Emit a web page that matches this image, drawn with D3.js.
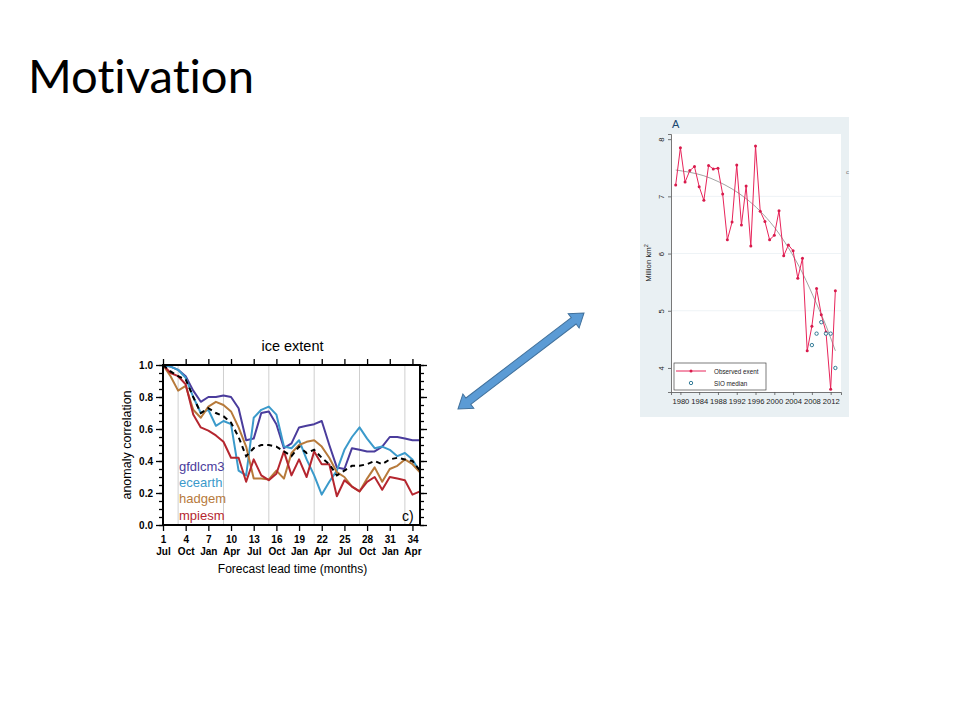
<!DOCTYPE html>
<html>
<head>
<meta charset="utf-8">
<script src="https://cdn.jsdelivr.net/npm/d3@7"></script>
<style>
  html, body { margin: 0; padding: 0; background: #fff; }
  svg text { font-family: "Liberation Sans", Arial, sans-serif; }
</style>
</head>
<body>
<svg id="slide" width="960" height="720"></svg>
<script>
(function(){

  // DATA ////////////////////////////////////////////////////////////////////

  // left panel: anomaly correlation of ice extent vs forecast lead month
  var leadMonths = [1,2,3,4,5,6,7,8,9,10,11,12,13,14,15,16,17,18,19,20,21,22,23,24,25,26,27,28,29,30,31,32,33,34,35];
  var gfdlcm3 = [1.00,0.99,0.97,0.93,0.84,0.77,0.80,0.80,0.81,0.80,0.73,0.53,0.54,0.70,0.71,0.63,0.48,0.51,0.61,0.62,0.63,0.65,0.50,0.36,0.35,0.48,0.47,0.46,0.46,0.49,0.55,0.55,0.54,0.53,0.53];
  var ecearth = [1.00,0.99,0.97,0.92,0.80,0.70,0.72,0.62,0.65,0.63,0.34,0.31,0.67,0.72,0.74,0.69,0.49,0.48,0.53,0.41,0.31,0.19,0.27,0.34,0.47,0.55,0.61,0.54,0.48,0.49,0.47,0.43,0.45,0.41,0.33];
  var hadgem  = [1.00,0.93,0.84,0.87,0.72,0.67,0.74,0.77,0.75,0.71,0.61,0.49,0.29,0.29,0.285,0.34,0.29,0.45,0.50,0.52,0.53,0.49,0.42,0.33,0.30,0.24,0.21,0.29,0.36,0.27,0.35,0.37,0.41,0.38,0.33];
  var mpiesm  = [1.00,0.95,0.93,0.88,0.69,0.61,0.59,0.56,0.52,0.42,0.42,0.27,0.41,0.31,0.28,0.32,0.46,0.31,0.41,0.30,0.46,0.38,0.38,0.18,0.28,0.24,0.21,0.27,0.30,0.22,0.30,0.29,0.28,0.19,0.21];
  var ensMean = [1.00,0.96,0.93,0.91,0.80,0.70,0.73,0.70,0.68,0.64,0.55,0.43,0.48,0.50,0.50,0.49,0.46,0.43,0.49,0.45,0.47,0.42,0.38,0.31,0.34,0.37,0.37,0.38,0.40,0.38,0.41,0.42,0.41,0.40,0.34];

  var leadTicks   = [1,4,7,10,13,16,19,22,25,28,31,34];
  var leadMonthNames = ["Jul","Oct","Jan","Apr","Jul","Oct","Jan","Apr","Jul","Oct","Jan","Apr"];
  var septLines   = [3,9,15,21,27,33];
  var corrTicks   = [0.0,0.2,0.4,0.6,0.8,1.0];

  var modelNames  = ["gfdlcm3","ecearth","hadgem","mpiesm"];
  var modelColors = ["#4a3c9c","#3b9acb","#b77a3b","#b5262f"];

  // right panel: September sea ice extent
  var years = [1979,1980,1981,1982,1983,1984,1985,1986,1987,1988,1989,1990,1991,1992,1993,1994,1995,1996,1997,1998,1999,2000,2001,2002,2003,2004,2005,2006,2007,2008,2009,2010,2011,2012,2013];
  var observedExtent = [7.20,7.85,7.25,7.45,7.52,7.17,6.93,7.54,7.48,7.49,7.04,6.24,6.55,7.55,6.50,7.18,6.13,7.88,6.74,6.56,6.24,6.32,6.75,5.96,6.15,6.05,5.57,5.92,4.30,4.73,5.39,4.93,4.63,3.63,5.35];
  var sioYears  = [2008,2009,2010,2011,2012,2013];
  var sioMedian = [4.40,4.60,4.80,4.60,4.60,4.00];
  var trendYears  = [1979,1982,1985,1988,1991,1994,1997,2000,2003,2006,2009,2011,2013];
  var trendValues = [7.46,7.42,7.36,7.26,7.13,6.96,6.74,6.46,6.10,5.66,5.12,4.74,4.30];
  var extentTicks = [4,5,6,7,8];
  var yearTicks   = [1980,1984,1988,1992,1996,2000,2004,2008,2012];

  var svg = d3.select("svg#slide");

  // TITLE ///////////////////////////////////////////////////////////////////

  var title = svg.append("text")
    .attr("x", 28).attr("y", 93)
    .style("font-family", "Lato, 'Open Sans', sans-serif")
    .style("font-variant-ligatures", "none")
    .style("font-size", "46px")
    .attr("fill", "#000")
    .text("Motivation");
  var tw = title.node().getComputedTextLength();
  title.style("font-size", (46 * 226 / tw) + "px");

  // LEFT CHART //////////////////////////////////////////////////////////////

  var L = { left: 163, right: 420, top: 365, bottom: 525 };
  var lx = d3.scaleLinear().domain([1, 35]).range([L.left, L.right]);
  var ly = d3.scaleLinear().domain([0, 1]).range([L.bottom, L.top]);

  var left = svg.append("g");

  left.selectAll("line.sept")
    .data(septLines)
    .enter().append("line")
    .attr("x1", function(d){ return lx(d); })
    .attr("x2", function(d){ return lx(d); })
    .attr("y1", L.top).attr("y2", L.bottom)
    .attr("stroke", "#cfcfcf").attr("stroke-width", 1);

  // axes: ticks pointing outward on all four sides
  var fmt = d3.format(".1f");
  left.append("g").attr("transform", "translate(" + L.left + ",0)")
    .call(d3.axisLeft(ly).tickValues(d3.range(0, 1.0001, 0.05)).tickSize(4).tickFormat(""));
  left.append("g").attr("transform", "translate(" + L.left + ",0)")
    .call(d3.axisLeft(ly).tickValues(corrTicks).tickSize(7).tickFormat(fmt).tickPadding(3));
  left.append("g").attr("transform", "translate(" + L.right + ",0)")
    .call(d3.axisRight(ly).tickValues(d3.range(0, 1.0001, 0.05)).tickSize(4).tickFormat(""));
  left.append("g").attr("transform", "translate(" + L.right + ",0)")
    .call(d3.axisRight(ly).tickValues(corrTicks).tickSize(7).tickFormat(""));
  left.append("g").attr("transform", "translate(0," + L.top + ")")
    .call(d3.axisTop(lx).tickValues(leadTicks).tickSize(6).tickFormat(""));
  var xb = left.append("g").attr("transform", "translate(0," + L.bottom + ")")
    .call(d3.axisBottom(lx).tickValues(leadTicks).tickSize(6).tickFormat(""));

  left.selectAll(".domain").remove();
  left.selectAll(".tick line").attr("stroke", "#000").attr("stroke-width", 1.3);
  left.selectAll(".tick text")
    .style("font-size", "10px").style("font-weight", "bold").attr("fill", "#000");

  xb.selectAll(".tick").each(function(d, i){
    var t = d3.select(this).append("text")
      .attr("text-anchor", "middle")
      .style("font-size", "10px").style("font-weight", "bold").attr("fill", "#000");
    t.append("tspan").attr("x", 0).attr("y", 18).text(d);
    t.append("tspan").attr("x", 0).attr("y", 30).text(leadMonthNames[i]);
  });

  var lline = d3.line()
    .x(function(d, i){ return lx(leadMonths[i]); })
    .y(function(d){ return ly(d); });

  var series = [gfdlcm3, ecearth, hadgem, mpiesm];
  left.selectAll("path.model")
    .data(series)
    .enter().append("path")
    .attr("class", "model")
    .attr("d", lline)
    .attr("fill", "none")
    .attr("stroke", function(d, i){ return modelColors[i]; })
    .attr("stroke-width", 2)
    .attr("stroke-linejoin", "round");

  left.append("path")
    .attr("d", lline(ensMean))
    .attr("fill", "none")
    .attr("stroke", "#000")
    .attr("stroke-width", 2)
    .attr("stroke-dasharray", "5,4");

  left.append("rect")
    .attr("x", L.left).attr("y", L.top)
    .attr("width", L.right - L.left).attr("height", L.bottom - L.top)
    .attr("fill", "none").attr("stroke", "#000").attr("stroke-width", 2);

  left.selectAll("text.legend")
    .data(modelNames)
    .enter().append("text")
    .attr("x", 179)
    .attr("y", function(d, i){ return 471 + i * 16.2; })
    .attr("fill", function(d, i){ return modelColors[i]; })
    .style("font-size", "13px")
    .text(function(d){ return d; });

  left.append("text").attr("x", 402).attr("y", 521)
    .style("font-size", "14px").attr("fill", "#000").text("c)");

  left.append("text").attr("x", (L.left + L.right) / 2 + 1).attr("y", 351)
    .attr("text-anchor", "middle").style("font-size", "14.5px").text("ice extent");

  left.append("text").attr("x", (L.left + L.right) / 2 + 1).attr("y", 573)
    .attr("text-anchor", "middle").style("font-size", "12px").text("Forecast lead time (months)");

  left.append("text")
    .attr("transform", "translate(131," + ((L.top + L.bottom) / 2) + ") rotate(-90)")
    .attr("text-anchor", "middle").style("font-size", "12.5px").text("anomaly correlation");

  // ARROW ///////////////////////////////////////////////////////////////////

  var ax0 = 458, ay0 = 409, ax1 = 584, ay1 = 313;
  var alen = Math.sqrt((ax1 - ax0) * (ax1 - ax0) + (ay1 - ay0) * (ay1 - ay0));
  var aang = Math.atan2(ay1 - ay0, ax1 - ax0) * 180 / Math.PI;
  var sh = 4, hh = 9, hl = 13;
  var arrowPts = [[0,0],[hl,-hh],[hl,-sh],[alen-hl,-sh],[alen-hl,-hh],[alen,0],[alen-hl,hh],[alen-hl,sh],[hl,sh],[hl,hh]];
  svg.append("polygon")
    .attr("points", arrowPts.map(function(p){ return p.join(","); }).join(" "))
    .attr("transform", "translate(" + ax0 + "," + ay0 + ") rotate(" + aang + ")")
    .attr("fill", "#5b9bd5").attr("stroke", "#41719c").attr("stroke-width", 1);

  // RIGHT CHART /////////////////////////////////////////////////////////////

  var right = svg.append("g");
  right.append("rect").attr("x", 640).attr("y", 117).attr("width", 209).attr("height", 300)
    .attr("fill", "#e9f0f3");

  var R = { left: 671, right: 841, top: 134, bottom: 392 };
  right.append("rect").attr("x", R.left).attr("y", R.top)
    .attr("width", R.right - R.left).attr("height", R.bottom - R.top).attr("fill", "#fff");

  var rx = d3.scaleLinear().domain([1978.0, 2014.2]).range([R.left, R.right]);
  var ry = d3.scaleLinear().domain([3.58, 8.09]).range([R.bottom, R.top]);

  right.selectAll("line.grid")
    .data(extentTicks.slice(1, 4))
    .enter().append("line")
    .attr("x1", R.left).attr("x2", R.right)
    .attr("y1", function(d){ return ry(d); }).attr("y2", function(d){ return ry(d); })
    .attr("stroke", "#eef3f6").attr("stroke-width", 1);

  var ryAxis = right.append("g").attr("transform", "translate(" + R.left + ",0)")
    .call(d3.axisLeft(ry).tickValues(extentTicks).tickSize(3).tickPadding(3).tickFormat(d3.format("d")));
  var rxAxis = right.append("g").attr("transform", "translate(0," + R.bottom + ")")
    .call(d3.axisBottom(rx).tickValues(yearTicks).tickSize(3).tickPadding(4).tickFormat(d3.format("d")));

  right.selectAll(".domain").attr("stroke", "#555").attr("stroke-width", 0.8);
  right.selectAll(".tick line").attr("stroke", "#555").attr("stroke-width", 0.8);
  rxAxis.selectAll(".tick text").style("font-size", "7.6px").attr("fill", "#222");
  ryAxis.selectAll(".tick text")
    .style("font-size", "7.6px").attr("fill", "#222")
    .attr("text-anchor", "middle").attr("dy", 0)
    .attr("transform", "translate(-7,0) rotate(-90)")
    .attr("x", 0).attr("y", 0);

  right.append("text")
    .attr("transform", "translate(651,263) rotate(-90)")
    .attr("text-anchor", "middle").style("font-size", "7.8px").attr("fill", "#222")
    .html("Million km<tspan dy='-3' style='font-size:5.5px'>2</tspan>");

  right.append("text").attr("x", 672).attr("y", 128)
    .style("font-size", "11px").attr("fill", "#1a476f").text("A");

  right.append("text").attr("x", 846).attr("y", 174)
    .style("font-size", "6px").attr("fill", "#777").text("c");

  var trend = d3.line()
    .x(function(d, i){ return rx(trendYears[i]); })
    .y(function(d){ return ry(d); })
    .curve(d3.curveMonotoneX);
  right.append("path").attr("d", trend(trendValues))
    .attr("fill", "none").attr("stroke", "#999").attr("stroke-width", 0.9);

  var obsLine = d3.line()
    .x(function(d, i){ return rx(years[i]); })
    .y(function(d){ return ry(d); });
  right.append("path").attr("d", obsLine(observedExtent))
    .attr("fill", "none").attr("stroke", "#e8245a").attr("stroke-width", 1);

  right.selectAll("circle.obs")
    .data(observedExtent)
    .enter().append("circle")
    .attr("cx", function(d, i){ return rx(years[i]); })
    .attr("cy", function(d){ return ry(d); })
    .attr("r", 1.5).attr("fill", "#d81b4c");

  right.selectAll("circle.sio")
    .data(sioMedian)
    .enter().append("circle")
    .attr("cx", function(d, i){ return rx(sioYears[i]); })
    .attr("cy", function(d){ return ry(d); })
    .attr("r", 1.7).attr("fill", "#fff").attr("stroke", "#1f6e8c").attr("stroke-width", 0.9);

  // legend box
  right.append("rect").attr("x", 674).attr("y", 363).attr("width", 92).attr("height", 27)
    .attr("fill", "#fff").attr("stroke", "#444").attr("stroke-width", 0.7);
  right.append("line").attr("x1", 676).attr("x2", 706).attr("y1", 371).attr("y2", 371)
    .attr("stroke", "#e8245a").attr("stroke-width", 1);
  right.append("circle").attr("cx", 691).attr("cy", 371).attr("r", 1.5).attr("fill", "#d81b4c");
  right.append("circle").attr("cx", 691).attr("cy", 383).attr("r", 1.7)
    .attr("fill", "#fff").attr("stroke", "#1f6e8c").attr("stroke-width", 0.9);
  right.append("text").attr("x", 714).attr("y", 373.5)
    .style("font-size", "6.3px").attr("fill", "#222").text("Observed exent");
  right.append("text").attr("x", 714).attr("y", 385.5)
    .style("font-size", "6.3px").attr("fill", "#222").text("SIO median");

})();
</script>
</body>
</html>
